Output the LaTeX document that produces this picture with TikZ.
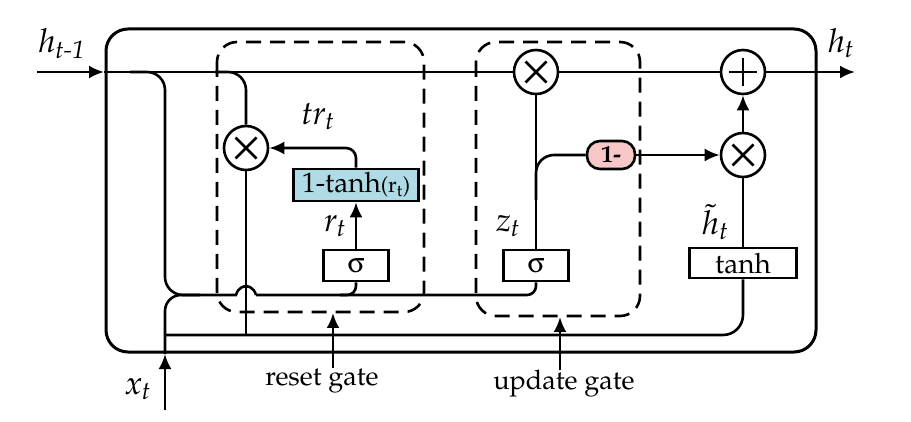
\documentclass[tikz,border=0pt]{standalone}
\usepackage[T1]{fontenc}
\usepackage{mathpazo}
\usepackage[Symbol]{upgreek}
\usetikzlibrary{arrows.meta}
\definecolor{boxblue}{RGB}{174,219,229}
\definecolor{boxpink}{RGB}{248,200,200}
\begin{document}
\begin{tikzpicture}[x=1pt,y=-1pt,
  every path/.style={line width=2.6pt},
  arr/.style={-{Latex[length=15pt,width=13pt]}},
  op/.style={circle,draw,line width=2.6pt,minimum size=44pt,inner sep=0pt},
  crossop/.style={op,path picture={\draw[line width=2.8pt]
     ([shift={(-10.5pt,-10.5pt)}]path picture bounding box.center) -- ([shift={(10.5pt,10.5pt)}]path picture bounding box.center)
     ([shift={(-10.5pt,10.5pt)}]path picture bounding box.center) -- ([shift={(10.5pt,-10.5pt)}]path picture bounding box.center);}},
  plusop/.style={op,path picture={\draw[line width=2.8pt]
     ([shift={(-14pt,0pt)}]path picture bounding box.center) -- ([shift={(14pt,0pt)}]path picture bounding box.center)
     ([shift={(0pt,-14pt)}]path picture bounding box.center) -- ([shift={(0pt,14pt)}]path picture bounding box.center);}},
  gbox/.style={draw,line width=2.6pt,inner sep=0pt,minimum height=31pt,font=\fontsize{28}{30}\selectfont},
  lbl/.style={inner sep=0pt,font=\fontsize{33}{35}\selectfont\itshape},
  gatelbl/.style={inner sep=0pt,font=\fontsize{27}{29}\selectfont},
  dbox/.style={dashed,dash pattern=on 15pt off 9pt,line width=2.6pt,rounded corners=20pt}
]
\useasboundingbox (0,0) rectangle (911,422);

% outer cell
\draw[line width=3pt,rounded corners=22pt] (106,29) rectangle (816,352);

% dashed gate regions
\draw[dbox] (217,42) rectangle (424,312);
\draw[dbox] (476,42) rectangle (640,316);

% operators
\node[crossop] (mr) at (246,148) {};
\node[crossop] (mz) at (536,72) {};
\node[plusop]  (pl) at (743,72) {};
\node[crossop] (mh) at (743,155) {};

% boxes
\node[gbox,minimum width=65pt] (sr) at (356,265.5) {$\upsigma$};
\node[gbox,minimum width=125pt,minimum height=32pt,fill=boxblue] (trb) at (356,185) {1-tanh{\fontsize{22}{24}\selectfont(r\textsubscript{t})}};
\node[gbox,minimum width=65pt] (sz) at (536,265.5) {$\upsigma$};
\node[gbox,minimum width=107pt,minimum height=30pt] (th) at (743,263) {tanh};
\node[draw,line width=2.6pt,fill=boxpink,rounded corners=13pt,minimum width=48pt,minimum height=28pt,inner sep=0pt,font=\fontsize{24}{26}\selectfont\bfseries] (one) at (611,155) {1-};

% coordinates
\coordinate (hin) at (37,72);
\coordinate (hentry) at (104,72);
\coordinate (hout) at (855,72);
\coordinate (xin) at (165,410);
\coordinate (xentry) at (165,354);
\coordinate (merge) at (200,295);
\coordinate (rgtail) at (333,368);
\coordinate (rghead) at (333,313);
\coordinate (ugtail) at (560,370);
\coordinate (ughead) at (560,317);

% labels
\node[lbl] (lhin) at (62,44) {h\textsubscript{t-1}};
\node[lbl] (lhout) at (841,43) {h\textsubscript{t}};
\node[lbl] (ltr) at (318,116) {tr\textsubscript{t}};
\node[lbl] (lr) at (335,226) {r\textsubscript{t}};
\node[lbl] (lz) at (508,226) {z\textsubscript{t}};
\node[lbl] (lht) at (715,222) {$\tilde{h}$\textsubscript{t}};
\node[lbl] (lx) at (138,389) {x\textsubscript{t}};
\node[gatelbl] (lreset) at (322,381) {reset gate};
\node[gatelbl] (lupdate) at (564,384) {update gate};

% main hidden-state line
\draw[arr] (hin) -- (hentry);
\draw (hentry) -- (mz);
\draw (mz) -- (pl);
\draw[arr] (pl) -- (hout);

% h_{t-1} down to gates
\draw[rounded corners=18pt] (130,72) -- (165,72) -- (165,295) -- (merge);
% x_t input
\draw[arr] (xin) -- (xentry);
\draw[rounded corners=16pt] (xentry) -- (165,295) -- (merge);
% joint input line with hop over the reset product line
\draw (merge) -- (236,295) .. controls (238,287) and (246,285) .. (246,287) .. controls (246,285) and (254,287) .. (256,295);
\draw[rounded corners=9pt] (256,295) -- (356,295) -- (sr.south);
\draw[rounded corners=9pt] (340,295) -- (536,295) -- (sz.south);

% h_{t-1} to reset multiplier
\draw[rounded corners=18pt] (215,72) -- (246,72) -- (mr.north);
% reset gate path
\draw[arr] (sr.north) -- (trb.south);
\draw[arr,rounded corners=10pt] (trb.north) |- (mr.east);
\draw (mr.south) -- (246,335);

% candidate input line
\draw[rounded corners=20pt] (165,335) -- (743,335) -- (th.south);
\draw (th.north) -- (mh.south);
\draw[arr] (mh.north) -- (pl.south);

% update gate path
\draw (sz.north) -- (mz.south);
\draw[rounded corners=18pt] (536,200) -- (536,155) -- (one.west);
\draw[arr] (one.east) -- (mh.west);

% gate label arrows
\draw[arr] (rgtail) -- (rghead);
\draw[arr] (ugtail) -- (ughead);
\end{tikzpicture}
\end{document}
